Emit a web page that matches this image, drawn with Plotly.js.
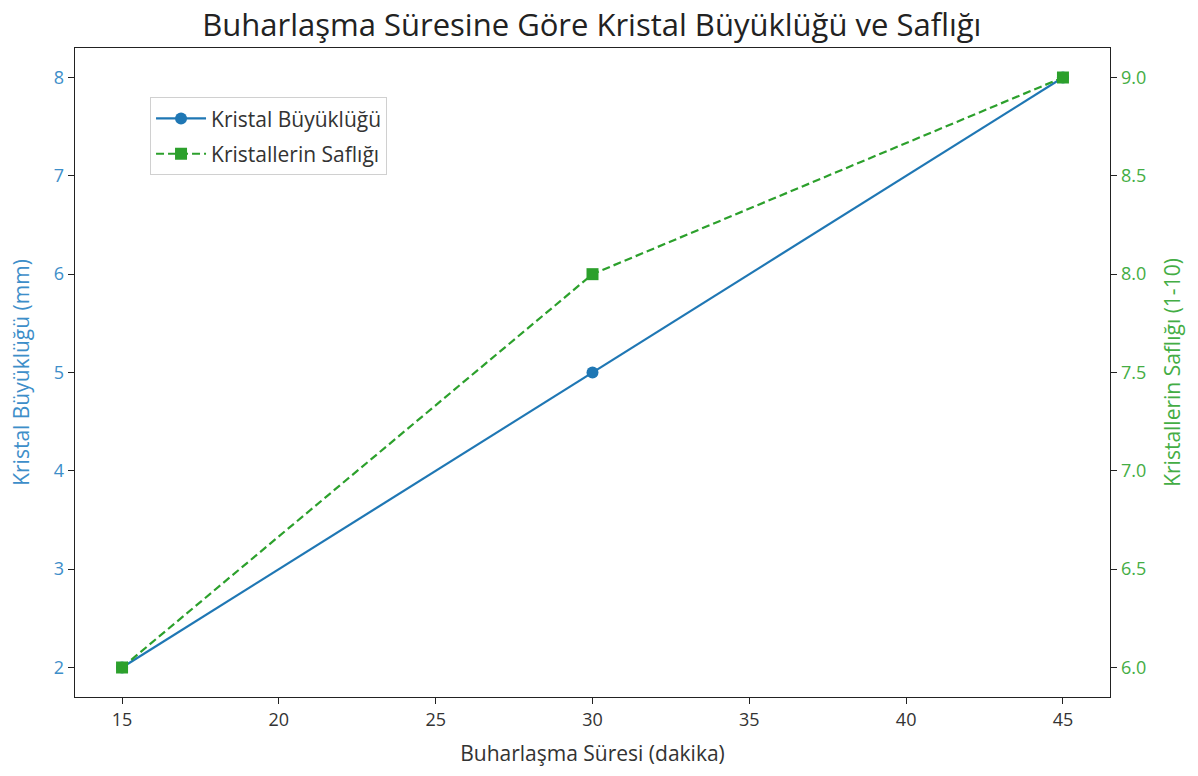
<!DOCTYPE html>
<html><head><meta charset="utf-8">
<script src="https://cdn.plot.ly/plotly-3.0.1.min.js"></script>
<style>html,body{margin:0;padding:0;background:#fff}</style>
</head><body>
<div id="chart" style="width:1198px;height:776px"></div>
<script>
const times = [15, 30, 45];
const crystalSize = [2, 5, 8];
const purity = [6, 8, 9];
const xTicks = [15, 20, 25, 30, 35, 40, 45];

const blue = '#1f77b4', green = '#2ca02c';
const blueTxt = '#3d8ec9', greenTxt = '#44ad44';
const fnt = '"Open Sans", "DejaVu Sans", sans-serif';

const traces = [
  {x: times, y: crystalSize, name: 'Kristal Büyüklüğü', type: 'scatter', mode: 'lines+markers', legendgroup: 'a',
   line: {color: blue, width: 2.2}, marker: {symbol: 'circle', size: 12, color: blue}, yaxis: 'y'},
  {x: times, y: purity, name: 'Kristallerin Saflığı', type: 'scatter', mode: 'lines+markers', legendgroup: 'b',
   line: {color: green, width: 2.2, dash: '8px,4px'}, marker: {symbol: 'square', size: 12, color: green}, yaxis: 'y2'}
];

const layout = {
  width: 1198, height: 776,
  margin: {l: 75, r: 88, t: 48, b: 79},
  paper_bgcolor: '#fff', plot_bgcolor: '#fff',
  font: {family: fnt, size: 17, color: '#333'},
  title: {text: 'Buharlaşma Süresine Göre Kristal Büyüklüğü ve Saflığı', x: 0.494, xanchor: 'center', y: 0.968, yanchor: 'middle',
          font: {size: 31, color: '#222', family: fnt}},
  showlegend: true,
  legend: {x: 0.0725, y: 0.924, xanchor: 'left', yanchor: 'top', bgcolor: 'rgba(255,255,255,0.9)',
           bordercolor: '#d0d0d0', borderwidth: 1, font: {size: 21, color: '#333'}, traceorder: 'grouped',
           tracegroupgap: 5, itemwidth: 50},
  xaxis: {range: [13.5, 46.5], tickvals: xTicks, ticktext: xTicks.map(String), showgrid: false, zeroline: false,
          showline: true, linecolor: '#222', linewidth: 1.3, mirror: true, ticks: 'outside', ticklen: 6, tickcolor: '#222',
          tickfont: {size: 18, color: '#333'},
          title: {text: 'Buharlaşma Süresi (dakika)', font: {size: 21, color: '#333'}, standoff: 16}},
  yaxis: {range: [1.7, 8.3], tickvals: [2,3,4,5,6,7,8], showgrid: false, zeroline: false,
          showline: true, linecolor: '#222', linewidth: 1.3, ticks: 'outside', ticklen: 6, tickcolor: '#222',
          tickfont: {size: 18, color: blueTxt},
          title: {text: 'Kristal Büyüklüğü (mm)', font: {size: 21, color: blueTxt}, standoff: 18}},
  yaxis2: {range: [5.85, 9.15], tickvals: [6,6.5,7,7.5,8,8.5,9], ticktext: ['6.0','6.5','7.0','7.5','8.0','8.5','9.0'],
           overlaying: 'y', side: 'right', showgrid: false, zeroline: false,
           showline: true, linecolor: '#222', linewidth: 1.3, ticks: 'outside', ticklen: 6, tickcolor: '#222',
           tickfont: {size: 18, color: greenTxt},
           title: {text: 'Kristallerin Saflığı (1-10)', font: {size: 21, color: greenTxt}, standoff: 20}}
};

Plotly.newPlot('chart', traces, layout, {displayModeBar: false, staticPlot: true});
</script>
</body></html>
